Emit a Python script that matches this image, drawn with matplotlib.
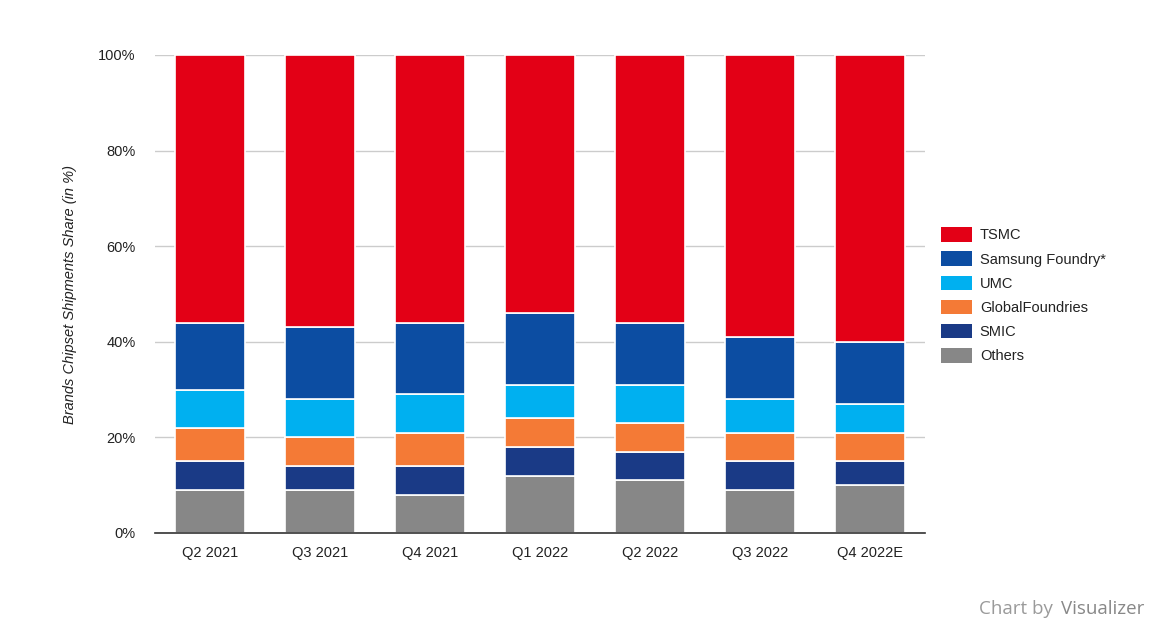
import matplotlib.pyplot as plt
import numpy as np
from matplotlib.ticker import FuncFormatter
from matplotlib.patches import Patch

quarters = ['Q2 2021', 'Q3 2021', 'Q4 2021', 'Q1 2022', 'Q2 2022', 'Q3 2022', 'Q4 2022E']

# stacked bottom to top
others = [9, 9, 8, 12, 11, 9, 10]
smic = [6, 5, 6, 6, 6, 6, 5]
globalfoundries = [7, 6, 7, 6, 6, 6, 6]
umc = [8, 8, 8, 7, 8, 7, 6]
samsung = [14, 15, 15, 15, 13, 13, 13]
tsmc = [56, 57, 56, 54, 56, 59, 60]

series = [
    ('Others', others, '#878787'),
    ('SMIC', smic, '#1a3a86'),
    ('GlobalFoundries', globalfoundries, '#f47a36'),
    ('UMC', umc, '#00b0f0'),
    ('Samsung Foundry*', samsung, '#0c4da2'),
    ('TSMC', tsmc, '#e30016'),
]

plt.rcParams['font.family'] = ['Liberation Sans', 'DejaVu Sans']

fig = plt.figure(figsize=(11.68, 6.3), dpi=100)
ax = fig.add_axes([155/1168, 97/630, 770/1168, 478/630])

x = np.arange(len(quarters))
bottom = np.zeros(len(quarters))
for name, vals, col in series:
    ax.bar(x, vals, bottom=bottom, width=0.63, color=col, edgecolor='white',
           linewidth=1.2, zorder=3)
    bottom += np.array(vals)

ax.set_xlim(-0.5, len(quarters) - 0.5)
ax.set_ylim(0, 100)
ax.set_yticks([0, 20, 40, 60, 80, 100])
ax.yaxis.set_major_formatter(FuncFormatter(lambda v, p: f'{int(v)}%'))
ax.set_xticks(x)
ax.set_xticklabels(quarters)
ax.tick_params(axis='both', length=0, labelsize=10.5, colors='#222222')
ax.tick_params(axis='x', pad=9)
ax.tick_params(axis='y', pad=14)
ax.grid(axis='y', color='#cccccc', linewidth=1, zorder=0)
for s in ['top', 'right', 'left']:
    ax.spines[s].set_visible(False)
ax.spines['bottom'].set_color('#333333')
ax.spines['bottom'].set_linewidth(1.2)
ax.spines['bottom'].set_zorder(4)

ax.set_ylabel('Brands Chipset Shipments Share (in %)', fontsize=10.5,
              style='italic', color='#222222')
ax.yaxis.set_label_coords(-78/770, 0.5)

handles = [Patch(facecolor=c, label=n) for n, v, c in reversed(series)]
fig.legend(handles=handles, loc='upper left', bbox_to_anchor=(928/1168, 1 - 214/630),
           frameon=False, fontsize=10.5, handlelength=2.1, handleheight=1.15,
           labelspacing=0.62, handletextpad=0.55, labelcolor='#222222')

fig.text(979/1168, 1 - 609/630, 'Chart by', fontsize=13.5, color='#9a9a9a',
         family=['Open Sans', 'DejaVu Sans'], va='center')
fig.text(1061/1168, 1 - 609/630, 'Visualizer', fontsize=13.5, color='#888888',
         family=['Open Sans', 'DejaVu Sans'], va='center')

fig.savefig('out.png', dpi=100)
